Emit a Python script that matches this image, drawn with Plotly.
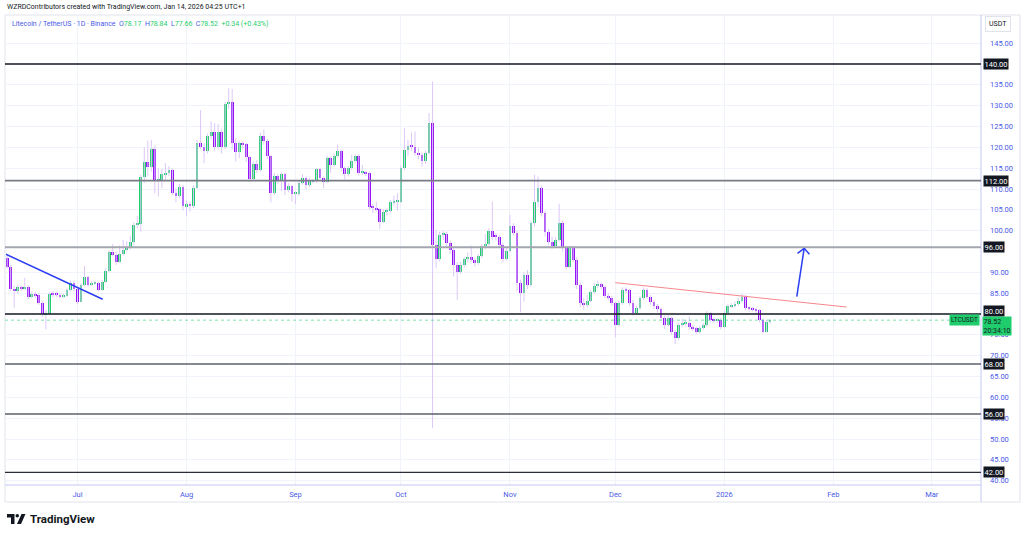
import plotly.graph_objects as go
import pandas as pd

# ---------------- data (LTC/USDT daily) ----------------
START_DATE = "2025-06-11"

OPEN = [93.4, 91.4, 85.9, 85.6, 86.4, 86.2, 86.5, 84.2, 84.7, 84.5,
        82.7, 79.9, 80.1, 84.8, 84.7, 84.6, 84.3, 84.4, 85.8, 87.5,
        85.9, 83.0, 87.0, 88.8, 87.0, 87.4, 87.5, 85.8, 87.8, 90.4,
        94.8, 94.2, 92.6, 94.4, 95.4, 95.8, 97.2, 101.4, 101.6, 112.9,
        116.6, 115.4, 119.6, 112.0, 112.2, 113.5, 113.9, 114.6, 109.0, 108.3,
        110.4, 105.9, 106.3, 106.0, 110.3, 121.1, 120.2, 119.2, 122.8, 123.6,
        120.0, 123.6, 120.0, 130.4, 130.8, 121.1, 119.0, 121.0, 120.7, 117.6,
        112.4, 116.0, 114.6, 122.8, 121.5, 117.9, 109.0, 113.2, 112.0, 113.5,
        109.8, 110.7, 108.8, 108.8, 111.4, 112.7, 111.0, 111.9, 111.9, 114.7,
        112.6, 111.8, 117.4, 115.8, 117.9, 119.1, 115.0, 113.6, 115.0, 116.7,
        118.0, 113.9, 114.0, 113.8, 105.6, 105.5, 105.1, 102.2, 104.6, 104.8,
        106.8, 106.9, 107.0, 115.0, 119.4, 120.4, 120.2, 118.7, 118.2, 116.7,
        118.6, 125.8, 96.6, 93.2, 99.0, 99.3, 97.1, 95.4, 91.8, 90.2,
        91.8, 93.1, 93.8, 93.0, 92.2, 93.9, 96.3, 96.8, 99.9, 98.6,
        98.5, 96.6, 93.2, 95.2, 101.2, 99.5, 87.4, 85.1, 89.4, 87.0,
        101.8, 106.8, 110.2, 104.2, 99.8, 97.4, 96.3, 97.8, 101.8, 95.8,
        91.4, 95.8, 93.0, 87.0, 82.6, 82.2, 83.2, 85.2, 86.8, 87.2,
        86.6, 84.3, 83.9, 82.6, 77.4, 82.6, 85.8, 85.7, 82.6, 80.2,
        81.4, 83.8, 85.8, 84.2, 82.9, 82.0, 81.2, 79.0, 77.4, 79.0,
        75.7, 74.2, 77.4, 77.8, 77.8, 76.8, 76.6, 75.8, 76.6, 77.4,
        80.2, 78.6, 78.4, 78.6, 76.9, 80.2, 81.9, 82.0, 82.4, 83.2,
        84.0, 81.4, 81.2, 81.1, 80.9, 78.6, 75.8, 78.17]

HIGH = [94.4, 91.8, 86.8, 87.0, 86.9, 88.7, 86.9, 85.4, 85.3, 84.9,
        83.2, 81.0, 85.2, 85.5, 85.3, 85.0, 84.9, 86.2, 88.0, 87.9,
        86.3, 87.4, 91.5, 89.2, 87.9, 88.0, 87.8, 88.2, 90.9, 95.3,
        96.8, 95.0, 96.5, 97.8, 97.5, 98.8, 102.0, 103.5, 113.4, 120.0,
        121.6, 121.8, 120.4, 115.0, 114.8, 116.2, 115.5, 115.0, 110.2, 111.2,
        111.0, 107.2, 107.0, 110.9, 121.8, 128.9, 121.0, 123.3, 126.2, 125.8,
        125.6, 124.5, 130.9, 134.2, 134.0, 122.2, 121.6, 121.4, 121.0, 118.0,
        116.6, 117.0, 123.5, 124.3, 122.0, 118.2, 113.8, 113.6, 114.0, 113.9,
        111.4, 111.0, 109.4, 111.9, 113.5, 113.0, 112.6, 112.4, 115.1, 115.0,
        113.0, 118.0, 117.8, 118.5, 120.7, 119.5, 115.4, 115.5, 118.2, 118.2,
        118.4, 115.8, 114.4, 114.2, 106.4, 107.0, 105.5, 105.2, 105.4, 107.4,
        108.4, 109.0, 115.6, 124.6, 121.8, 123.5, 123.8, 120.0, 118.8, 119.2,
        128.2, 135.8, 100.2, 99.8, 99.9, 99.8, 97.6, 96.0, 92.4, 92.5,
        93.6, 94.8, 96.4, 93.5, 94.4, 96.8, 99.2, 100.6, 107.0, 99.4,
        99.0, 97.0, 95.8, 103.8, 101.8, 100.0, 88.2, 90.0, 90.6, 102.4,
        113.4, 113.0, 110.8, 104.8, 100.4, 98.6, 98.4, 106.5, 102.4, 96.4,
        96.4, 96.4, 93.6, 87.6, 83.8, 84.6, 85.8, 87.4, 88.0, 87.6,
        87.0, 85.0, 84.4, 83.0, 83.2, 86.4, 86.4, 86.0, 83.4, 82.0,
        84.4, 86.4, 86.2, 84.6, 83.4, 82.4, 81.6, 79.6, 79.8, 79.4,
        76.2, 77.9, 78.9, 78.5, 79.4, 77.4, 77.0, 77.2, 77.9, 80.8,
        80.5, 79.2, 79.0, 79.0, 80.8, 82.4, 82.6, 83.0, 83.8, 84.8,
        84.6, 81.9, 81.7, 81.5, 81.2, 79.0, 78.6, 78.84]

LOW = [90.9, 85.4, 81.5, 84.9, 85.5, 85.8, 83.6, 83.8, 83.9, 82.2,
       79.3, 76.3, 79.8, 84.0, 84.1, 83.8, 83.9, 84.1, 85.4, 85.3,
       82.4, 82.8, 86.6, 86.5, 86.7, 87.0, 85.4, 85.6, 87.5, 90.0,
       93.8, 91.8, 92.3, 94.0, 95.0, 95.5, 96.6, 100.6, 99.8, 111.5,
       113.0, 114.2, 109.0, 108.2, 110.2, 112.0, 113.2, 108.4, 106.8, 107.8,
       104.8, 103.5, 104.6, 105.4, 110.0, 119.5, 116.2, 118.5, 121.9, 119.2,
       119.5, 118.5, 119.6, 129.2, 119.5, 116.6, 117.4, 119.6, 116.5, 111.8,
       112.0, 113.8, 114.2, 120.6, 117.2, 106.8, 108.6, 111.2, 109.5, 108.5,
       109.2, 107.0, 106.4, 108.4, 111.0, 110.0, 110.5, 111.3, 111.5, 112.0,
       110.2, 111.4, 113.8, 115.3, 117.5, 114.3, 112.3, 113.0, 114.6, 116.2,
       113.2, 113.4, 113.1, 105.0, 104.2, 104.6, 100.4, 101.8, 103.6, 104.3,
       106.2, 104.8, 106.6, 114.5, 118.0, 119.2, 118.0, 117.2, 115.4, 116.0,
       118.2, 52.6, 91.0, 92.6, 97.8, 96.2, 94.4, 89.0, 83.4, 89.6,
       91.2, 92.4, 92.4, 91.4, 91.8, 93.5, 95.6, 96.2, 97.8, 97.6,
       95.8, 92.4, 92.8, 94.8, 98.8, 85.4, 80.4, 83.0, 86.0, 86.6,
       101.0, 105.6, 103.4, 98.6, 96.6, 95.6, 95.8, 97.4, 95.0, 90.6,
       91.0, 92.4, 86.0, 81.6, 81.0, 81.6, 82.8, 84.8, 86.2, 85.8,
       83.8, 83.2, 82.0, 74.4, 77.0, 82.2, 84.9, 82.0, 79.6, 79.8,
       81.0, 83.4, 83.6, 82.2, 81.2, 80.4, 78.4, 76.4, 76.9, 75.0,
       72.8, 73.8, 76.8, 77.0, 76.2, 75.9, 75.2, 75.3, 76.2, 77.0,
       78.0, 77.8, 77.9, 76.3, 76.6, 79.8, 81.4, 81.6, 82.0, 82.8,
       80.8, 80.6, 80.6, 80.2, 78.0, 75.4, 75.6, 77.66]

CLOSE = [91.4, 85.9, 85.6, 86.4, 86.2, 86.5, 84.2, 84.7, 84.5, 82.7,
         79.9, 80.1, 84.8, 84.7, 84.6, 84.3, 84.4, 85.8, 87.5, 85.9,
         83.0, 87.0, 88.8, 87.0, 87.4, 87.5, 85.8, 87.8, 90.4, 94.8,
         94.2, 92.6, 94.4, 95.4, 95.8, 97.2, 101.4, 101.6, 112.9, 116.6,
         115.4, 119.6, 112.0, 112.2, 113.5, 113.9, 114.6, 109.0, 108.3, 110.4,
         105.9, 106.3, 106.0, 110.3, 121.1, 120.2, 119.2, 122.8, 123.6, 120.0,
         123.6, 120.0, 130.4, 130.8, 121.1, 119.0, 121.0, 120.7, 117.6, 112.4,
         116.0, 114.6, 122.8, 121.5, 117.9, 109.0, 113.2, 112.0, 113.5, 109.8,
         110.7, 108.8, 108.8, 111.4, 112.7, 111.0, 111.9, 111.9, 114.7, 112.6,
         111.8, 117.4, 115.8, 117.9, 119.1, 115.0, 113.6, 115.0, 116.7, 118.0,
         113.9, 114.0, 113.8, 105.6, 105.5, 105.1, 102.2, 104.6, 104.8, 106.8,
         106.9, 107.0, 115.0, 119.4, 120.4, 120.2, 118.7, 118.2, 116.7, 118.6,
         125.8, 96.6, 93.2, 99.0, 99.3, 97.1, 95.4, 91.8, 90.2, 91.8,
         93.1, 93.8, 93.0, 92.2, 93.9, 96.3, 96.8, 99.9, 98.6, 98.5,
         96.6, 93.2, 95.2, 101.2, 99.5, 87.4, 85.1, 89.4, 87.0, 101.8,
         106.8, 110.2, 104.2, 99.8, 97.4, 96.3, 97.8, 101.8, 95.8, 91.4,
         95.8, 93.0, 87.0, 82.6, 82.2, 83.2, 85.2, 86.8, 87.2, 86.6,
         84.3, 83.9, 82.6, 77.4, 82.6, 85.8, 85.7, 82.6, 80.2, 81.4,
         83.8, 85.8, 84.2, 82.9, 82.0, 81.2, 79.0, 77.4, 79.0, 75.7,
         74.2, 77.4, 77.8, 77.8, 76.8, 76.6, 75.8, 76.6, 77.4, 80.2,
         78.6, 78.4, 78.6, 76.9, 80.2, 81.9, 82.0, 82.4, 83.2, 84.0,
         81.4, 81.2, 81.1, 80.9, 78.6, 75.8, 78.17, 78.52]

LEVELS = [140, 112, 96, 80, 68, 56, 42]
# price-scale ticks (those hidden under a level box in the picture are left out)
Y_TICKS = [40, 45, 50, 55, 60, 65, 70, 75, 85, 90, 100, 105,
           110, 115, 120, 125, 130, 135, 145]
MONTH_TICKS = ["2025-07-01", "2025-08-01", "2025-09-01", "2025-10-01", "2025-11-01",
               "2025-12-01", "2026-01-01", "2026-02-01", "2026-03-01"]
MONTH_LABELS = ["Jul", "Aug", "Sep", "Oct", "Nov", "Dec", "2026", "Feb", "Mar"]
LAST_PRICE = 78.52
COUNTDOWN = "20:34:10"
SYMBOL = "LTCUSDT"

# user drawings (anchor points in date / price)
BLUE_TREND = [("2025-06-10 16:00", 94.33), ("2025-07-08 04:00", 83.53)]
RED_TREND = [("2025-11-30 23:00", 87.52), ("2026-02-04 19:00", 81.67)]
ARROW_SHAFT = [("2026-01-21 14:24", 84.15), ("2026-01-23 16:48", 95.77)]
ARROW_WINGS = [("2026-01-21 19:12", 94.57), ("2026-01-25 04:48", 94.33)]

# ---------------- style ----------------
GREEN = "#1fcd6c"
PURPLE = "#9612f7"
WICK = "#dcc8f8"
AXIS_BLUE = "#4a5ae8"
GRID = "#f0f3fa"
TEXT = "#131722"
LEVEL_STYLE = {140: ("#131722", 1.6), 112: ("#787b86", 1.6), 96: ("#a3a6af", 2.0),
               80: ("#131722", 1.6), 68: ("#5d606b", 1.4), 56: ("#5d606b", 1.4),
               42: ("#2a2e39", 1.4)}
LABEL_SHIFT = {80: 3}   # the 80.00 box is nudged up above the last-price box
FONT = "Roboto, Noto Sans, sans-serif"

PL, PR, PT, PB = 5, 981, 15, 485   # plot area in pixels
W, Hh = 1024, 535


def px(x):
    return (x - PL) / (PR - PL)


def py(y):
    return (PB - y) / (PB - PT)


dates = pd.date_range(START_DATE, periods=len(CLOSE), freq="D")

# wicks
wx, wy = [], []
for d, lo, hi in zip(dates, LOW, HIGH):
    wx += [d, d, None]
    wy += [lo, hi, None]

# bodies
base = [min(o, c) for o, c in zip(OPEN, CLOSE)]
height = [max(abs(c - o), 0.25) for o, c in zip(OPEN, CLOSE)]
colors = [GREEN if c >= o else PURPLE for o, c in zip(OPEN, CLOSE)]

fig = go.Figure()
fig.add_trace(go.Scatter(x=wx, y=wy, mode="lines", line=dict(color=WICK, width=1),
                         hoverinfo="skip", showlegend=False))
fig.add_trace(go.Bar(x=dates, y=height, base=base, marker=dict(color=colors, line=dict(width=0)),
                     width=0.8 * 86400000, showlegend=False, hoverinfo="skip"))

shapes = []
# outer frame
shapes.append(dict(type="rect", xref="paper", yref="paper", x0=px(5), x1=px(1020), y0=py(502), y1=py(15),
                   line=dict(color="#e0e3eb", width=1), layer="below"))
shapes.append(dict(type="line", xref="paper", yref="paper", x0=px(981), x1=px(981), y0=py(502), y1=py(15),
                   line=dict(color="#c3c8f7", width=1)))
shapes.append(dict(type="line", xref="paper", yref="paper", x0=px(5), x1=px(981), y0=py(485), y1=py(485),
                   line=dict(color="#c3c8f7", width=1)))
# last price dotted line
shapes.append(dict(type="line", xref="paper", yref="y", x0=0, x1=1, y0=LAST_PRICE, y1=LAST_PRICE,
                   line=dict(color=GREEN, width=1, dash="dot"), opacity=0.55))
# horizontal levels
for lv in LEVELS:
    col, wd = LEVEL_STYLE[lv]
    shapes.append(dict(type="line", xref="paper", yref="y", x0=0, x1=1, y0=lv, y1=lv,
                       line=dict(color=col, width=wd)))
# trendlines
shapes.append(dict(type="line", xref="x", yref="y", x0=BLUE_TREND[0][0], y0=BLUE_TREND[0][1],
                   x1=BLUE_TREND[1][0], y1=BLUE_TREND[1][1], line=dict(color="#2b3ff2", width=1.5)))
shapes.append(dict(type="line", xref="x", yref="y", x0=RED_TREND[0][0], y0=RED_TREND[0][1],
                   x1=RED_TREND[1][0], y1=RED_TREND[1][1], line=dict(color="#f7868c", width=1)))
shapes.append(dict(type="line", xref="x", yref="y", x0=ARROW_SHAFT[0][0], y0=ARROW_SHAFT[0][1],
                   x1=ARROW_SHAFT[1][0], y1=ARROW_SHAFT[1][1], line=dict(color="#2b3ff2", width=1.5)))
for wxp, wyp in ARROW_WINGS:
    shapes.append(dict(type="line", xref="x", yref="y", x0=ARROW_SHAFT[1][0], y0=ARROW_SHAFT[1][1],
                       x1=wxp, y1=wyp, line=dict(color="#2b3ff2", width=1.5)))


# TradingView logo (blocky "7", dot, slash)
def path(points):
    return "M " + " L ".join(f"{px(a):.5f},{py(b):.5f}" for a, b in points) + " Z"


shapes.append(dict(type="path", xref="paper", yref="paper",
                   path=path([(7, 514), (14.5, 514), (14.5, 524), (11, 524), (11, 517.5), (7, 517.5)]),
                   fillcolor=TEXT, line=dict(width=0)))
shapes.append(dict(type="circle", xref="paper", yref="paper", x0=px(15.5), x1=px(19), y0=py(517.6), y1=py(514.1),
                   fillcolor=TEXT, line=dict(width=0)))
shapes.append(dict(type="path", xref="paper", yref="paper",
                   path=path([(21.5, 514), (25.5, 514), (21, 524), (17, 524)]),
                   fillcolor=TEXT, line=dict(width=0)))

annotations = []
# header
annotations.append(dict(xref="paper", yref="paper", x=px(5), y=py(7), xanchor="left", yanchor="middle",
                        text="WZRDContributors created with TradingView.com, Jan 14, 2026 04:25 UTC+1",
                        showarrow=False, font=dict(size=7, color=TEXT, family=FONT)))
legend_html = (f"<span style='color:{AXIS_BLUE}'>Litecoin / TetherUS · 1D · Binance</span>"
               f"  <span style='color:{AXIS_BLUE}'>O</span><span style='color:{GREEN}'>{OPEN[-1]:.2f}</span>"
               f"  <span style='color:{AXIS_BLUE}'>H</span><span style='color:{GREEN}'>{HIGH[-1]:.2f}</span>"
               f"  <span style='color:{AXIS_BLUE}'>L</span><span style='color:{GREEN}'>{LOW[-1]:.2f}</span>"
               f"  <span style='color:{AXIS_BLUE}'>C</span><span style='color:{GREEN}'>{CLOSE[-1]:.2f}</span>"
               f"  <span style='color:{GREEN}'>+0.34 (+0.43%)</span>")
annotations.append(dict(xref="paper", yref="paper", x=px(10), y=py(24), xanchor="left", yanchor="middle",
                        text=legend_html, showarrow=False, font=dict(size=7, color=AXIS_BLUE, family=FONT)))
# USDT unit box
annotations.append(dict(xref="paper", yref="paper", x=px(998), y=py(24), xanchor="center", yanchor="middle",
                        text="USDT", showarrow=False, font=dict(size=7, color=TEXT, family=FONT),
                        bordercolor="#e0e3eb", borderwidth=1, borderpad=3, bgcolor="white"))
# level labels
for lv in LEVELS:
    annotations.append(dict(xref="paper", yref="y", x=1, y=lv, xanchor="left", yanchor="middle", xshift=2,
                            yshift=LABEL_SHIFT.get(lv, 0),
                            text=f"{lv:.2f}", showarrow=False, bgcolor="#131722", borderpad=0.5,
                            font=dict(size=7.5, color="white", family=FONT)))
# last price label
annotations.append(dict(xref="paper", yref="y", x=1, y=LAST_PRICE, xanchor="left", yanchor="top", xshift=1, yshift=4,
                        text=f"{LAST_PRICE:.2f}<br>{COUNTDOWN}", showarrow=False, bgcolor=GREEN, borderpad=0.5,
                        align="left", font=dict(size=7, color=TEXT, family=FONT)))
annotations.append(dict(xref="paper", yref="y", x=1, y=LAST_PRICE, xanchor="right", yanchor="middle", xshift=-1,
                        text=SYMBOL, showarrow=False, bgcolor=GREEN, borderpad=1,
                        font=dict(size=6.5, color=TEXT, family=FONT)))
# TradingView wordmark
annotations.append(dict(xref="paper", yref="paper", x=px(28), y=py(519), xanchor="left", yanchor="middle",
                        text="<b>TradingView</b>", showarrow=False, font=dict(size=11.5, color=TEXT, family=FONT)))

fig.update_layout(
    width=W, height=Hh,
    margin=dict(l=PL, r=W - PR, t=PT, b=Hh - PB),
    paper_bgcolor="white", plot_bgcolor="white",
    bargap=0, barmode="overlay",
    shapes=shapes, annotations=annotations,
    xaxis=dict(type="date", range=["2025-06-10 09:00", "2026-03-15 00:00"],
               tickvals=MONTH_TICKS, ticktext=MONTH_LABELS, showgrid=True, gridcolor=GRID, gridwidth=1,
               tickfont=dict(size=7.5, color=AXIS_BLUE, family=FONT), ticks="", zeroline=False,
               showline=False, ticklabelstandoff=3, fixedrange=True),
    yaxis=dict(side="right", range=[38.96, 151.76], tickvals=Y_TICKS,
               ticktext=[f"{v:.2f}" for v in Y_TICKS], showgrid=True, gridcolor=GRID, gridwidth=1,
               tickfont=dict(size=7.5, color=AXIS_BLUE, family=FONT), ticks="", zeroline=False,
               showline=False, ticklabelstandoff=8, fixedrange=True),
    showlegend=False,
)

fig.write_html("out.html", config={"displayModeBar": False},
               post_script="document.body.style.margin='0';document.body.style.padding='0';")
